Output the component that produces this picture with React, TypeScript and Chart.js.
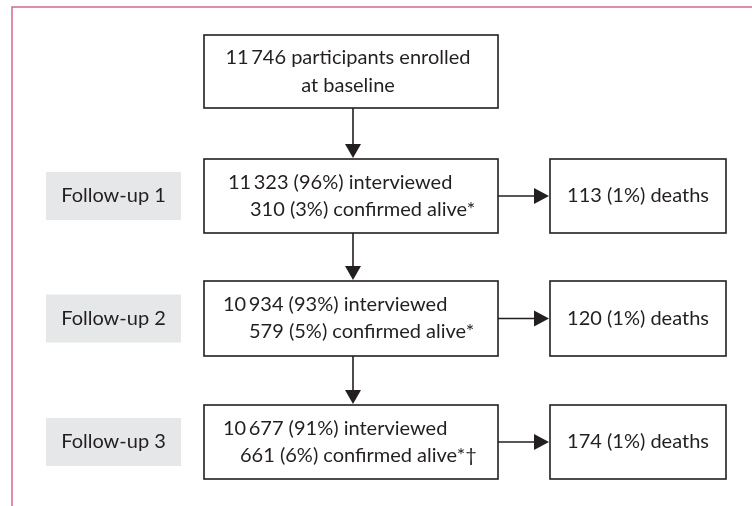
import React, { useEffect, useRef } from "react";
import { Chart, registerables } from "chart.js";

Chart.register(...registerables);

// ---- data ----
const stageLabels = ["Follow-up 1", "Follow-up 2", "Follow-up 3"];
const enrolledN = 11746;
const interviewedN = [11323, 10934, 10677];
const interviewedPct = [96, 93, 91];
const aliveN = [310, 579, 661];
const alivePct = [3, 5, 6];
const aliveNote = ["*", "*", "*\u2020"];
const deathsN = [113, 120, 174];
const deathsPct = [1, 1, 1];

// ---- layout (in scale units, mapped through the chart's scales) ----
const LAYOUT = {
  mainX0: 204,
  mainX1: 498,
  topY: [35, 108],
  stageY: [
    [159, 233],
    [281, 356],
    [405, 479],
  ],
  deathX0: 550,
  deathX1: 726,
  labelX0: 46,
  labelX1: 181,
  labelH: 48,
  arrowX: 353,
  line1X: [228, 223, 223],
  line2X: [250, 249, 240],
  topTextX: 348,
};

const FONT = "Lato, 'Open Sans', sans-serif";
const INK = "#231f20";

function fmt(n: number): string {
  const s = String(n);
  if (n >= 10000) return s.slice(0, s.length - 3) + "\u2009" + s.slice(s.length - 3);
  return s;
}

const flowPlugin = {
  id: "flow",
  afterDraw(chart: any) {
    const ctx: CanvasRenderingContext2D = chart.ctx;
    const xs = chart.scales.x;
    const ys = chart.scales.y;
    const X = (v: number) => xs.getPixelForValue(v);
    const Y = (v: number) => ys.getPixelForValue(v);
    ctx.save();

    // frame
    ctx.strokeStyle = "#d6688b";
    ctx.lineWidth = 1.5;
    ctx.beginPath();
    ctx.moveTo(X(12), Y(506));
    ctx.lineTo(X(12), Y(7));
    ctx.lineTo(X(752), Y(7));
    ctx.stroke();

    const box = (x0: number, y0: number, x1: number, y1: number) => {
      ctx.strokeStyle = INK;
      ctx.lineWidth = 1.6;
      ctx.strokeRect(X(x0), Y(y0), X(x1) - X(x0), Y(y1) - Y(y0));
    };
    const arrowDown = (x: number, y0: number, y1: number) => {
      ctx.strokeStyle = INK;
      ctx.fillStyle = INK;
      ctx.lineWidth = 1.6;
      ctx.beginPath();
      ctx.moveTo(X(x), Y(y0));
      ctx.lineTo(X(x), Y(y1) - 14);
      ctx.stroke();
      ctx.beginPath();
      ctx.moveTo(X(x) - 8, Y(y1) - 15);
      ctx.lineTo(X(x) + 8, Y(y1) - 15);
      ctx.lineTo(X(x), Y(y1) - 1);
      ctx.closePath();
      ctx.fill();
    };
    const arrowRight = (x0: number, x1: number, y: number) => {
      ctx.strokeStyle = INK;
      ctx.fillStyle = INK;
      ctx.lineWidth = 1.6;
      ctx.beginPath();
      ctx.moveTo(X(x0), Y(y));
      ctx.lineTo(X(x1) - 14, Y(y));
      ctx.stroke();
      ctx.beginPath();
      ctx.moveTo(X(x1) - 16, Y(y) - 8);
      ctx.lineTo(X(x1) - 16, Y(y) + 8);
      ctx.lineTo(X(x1) - 1, Y(y));
      ctx.closePath();
      ctx.fill();
    };
    const text = (s: string, x: number, y: number, align: CanvasTextAlign) => {
      ctx.fillStyle = INK;
      ctx.font = `20px ${FONT}`;
      ctx.textAlign = align;
      ctx.textBaseline = "middle";
      ctx.fillText(s, X(x), Y(y));
    };

    // top box
    const [ty0, ty1] = LAYOUT.topY;
    box(LAYOUT.mainX0, ty0, LAYOUT.mainX1, ty1);
    const tc = (ty0 + ty1) / 2;
    text(`${fmt(enrolledN)} participants enrolled`, LAYOUT.topTextX, tc - 14, "center");
    text("at baseline", LAYOUT.topTextX, tc + 14, "center");

    let prevBottom = ty1;
    stageLabels.forEach((lab, i) => {
      const [y0, y1] = LAYOUT.stageY[i];
      const c = (y0 + y1) / 2;
      // grey label
      ctx.fillStyle = "#e6e7e8";
      ctx.fillRect(X(LAYOUT.labelX0), Y(c - LAYOUT.labelH / 2), X(LAYOUT.labelX1) - X(LAYOUT.labelX0), Y(c + LAYOUT.labelH / 2) - Y(c - LAYOUT.labelH / 2));
      text(lab, (LAYOUT.labelX0 + LAYOUT.labelX1) / 2, c, "center");
      // stage box
      arrowDown(LAYOUT.arrowX, prevBottom, y0);
      box(LAYOUT.mainX0, y0, LAYOUT.mainX1, y1);
      text(`${fmt(interviewedN[i])} (${interviewedPct[i]}%) interviewed`, LAYOUT.line1X[i], c - 13.5, "left");
      text(`${fmt(aliveN[i])} (${alivePct[i]}%) confirmed alive${aliveNote[i]}`, LAYOUT.line2X[i], c + 13.5, "left");
      // deaths
      arrowRight(LAYOUT.mainX1, LAYOUT.deathX0, c);
      box(LAYOUT.deathX0, y0, LAYOUT.deathX1, y1);
      text(`${fmt(deathsN[i])} (${deathsPct[i]}%) deaths`, (LAYOUT.deathX0 + LAYOUT.deathX1) / 2, c, "center");
      prevBottom = y1;
    });
    ctx.restore();
  },
};

export default function App() {
  const ref = useRef<HTMLCanvasElement | null>(null);
  useEffect(() => {
    if (!ref.current) return;
    const chart = new Chart(ref.current, {
      type: "scatter",
      data: { datasets: [{ data: [], pointRadius: 0 }] },
      options: {
        animation: false,
        responsive: false,
        layout: { padding: 0 },
        plugins: { legend: { display: false }, tooltip: { enabled: false } },
        scales: {
          x: { type: "linear", min: 0, max: 752, display: false },
          y: { type: "linear", min: 0, max: 506, reverse: true, display: false },
        },
      },
      plugins: [flowPlugin],
    });
    return () => chart.destroy();
  }, []);
  return (
    <div style={{ position: "absolute", left: 0, top: 0, width: 752, height: 506, background: "#fff" }}>
      <canvas ref={ref} width={752} height={506} style={{ width: 752, height: 506 }} />
    </div>
  );
}
